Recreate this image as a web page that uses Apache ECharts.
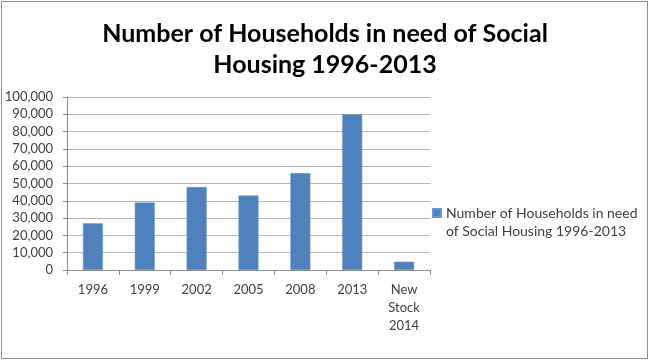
<!DOCTYPE html>
<html>
<head>
<meta charset="utf-8">
<script src="https://cdn.jsdelivr.net/npm/echarts@6/dist/echarts.min.js"></script>
<style>
html,body{margin:0;padding:0;background:#fff;}
#chart{width:650px;height:363px;}
</style>
</head>
<body>
<div id="chart"></div>
<script>
var categories = ['1996', '1999', '2002', '2005', '2008', '2013', 'New\nStock\n2014'];
var households = [27000, 39000, 48000, 43000, 56000, 90000, 4800];
var seriesName = 'Number of Households in need of Social Housing 1996-2013';
var legendLines = ['Number of Households in need', 'of Social Housing 1996-2013'];
var titleText = 'Number of Households in need of Social\nHousing 1996-2013';
var yTicks = [0, 10000, 20000, 30000, 40000, 50000, 60000, 70000, 80000, 90000, 100000];

var chart = echarts.init(document.getElementById('chart'), null, {renderer: 'canvas'});
var font = 'Lato, "Open Sans", sans-serif';
chart.setOption({
  animation: false,
  backgroundColor: '#fff',
  title: {
    text: titleText,
    left: 'center',
    top: 13,
    textStyle: {fontFamily: font, fontWeight: 'bold', fontSize: 25, lineHeight: 31, color: '#000'}
  },
  legend: {
    data: [seriesName],
    left: 432,
    top: 188,
    padding: 0,
    orient: 'vertical',
    itemWidth: 8,
    itemHeight: 8,
    icon: 'rect',
    formatter: function () { return '{b|x}\n{a|' + legendLines[0] + '}\n{a|' + legendLines[1] + '}'; },
    textStyle: {
      fontFamily: font, fontSize: 14, color: '#404040',
      rich: {
        a: {fontFamily: font, fontSize: 14, lineHeight: 18, color: '#404040'},
        b: {fontFamily: font, fontSize: 14, lineHeight: 18, color: 'rgba(0,0,0,0)'}
      }
    }
  },
  grid: {left: 67, right: 220, top: 97, bottom: 93, containLabel: false},
  xAxis: {
    type: 'category',
    data: categories,
    axisLine: {lineStyle: {color: '#8c8c8c'}},
    axisTick: {show: true, length: 5, lineStyle: {color: '#8c8c8c'}},
    axisLabel: {fontFamily: font, fontSize: 13, lineHeight: 18, color: '#404040', margin: 11, interval: 0}
  },
  yAxis: {
    type: 'value',
    min: 0,
    max: 100000,
    interval: 10000,
    axisLine: {show: true, lineStyle: {color: '#8c8c8c'}},
    axisTick: {show: true, length: 4, lineStyle: {color: '#8c8c8c'}},
    splitLine: {lineStyle: {color: '#b4b4b4'}},
    axisLabel: {
      fontFamily: font, fontSize: 13, color: '#404040', margin: 14,
      formatter: function (v) { return yTicks.indexOf(v) >= 0 ? v.toLocaleString('en-US') : ''; }
    }
  },
  series: [{
    name: seriesName,
    type: 'bar',
    data: households,
    barWidth: 20,
    itemStyle: {color: '#4F81BD', borderColor: '#6b96cc', borderWidth: 0.5}
  }],
  graphic: [{
    type: 'rect',
    shape: {x: 1.5, y: 1.5, width: 646, height: 357},
    style: {fill: 'none', stroke: '#8c8c8c', lineWidth: 1},
    silent: true
  }]
});
</script>
</body>
</html>
